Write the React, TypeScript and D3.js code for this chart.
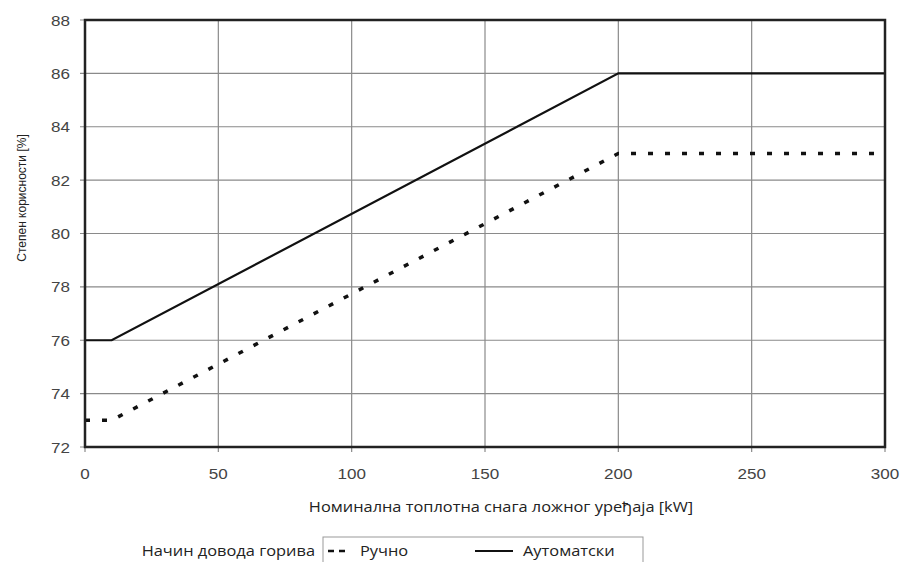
import React from "react";
import * as d3 from "d3";

const xTicks = [0, 50, 100, 150, 200, 250, 300];
const yTicks = [72, 74, 76, 78, 80, 82, 84, 86, 88];
const autoX = [0, 10, 200, 300];
const autoY = [76, 76, 86, 86];
const manualX = [0, 10, 200, 300];
const manualY = [73, 73, 83, 83];
const xTitle = "Номинална топлотна снага ложног уређаја [kW]";
const yTitle = "Степен корисности [%]";
const legendTitle = "Начин довода горива";
const seriesNames = ["Ручно", "Аутоматски"];

const W = 901, H = 562;
const M = { left: 85, right: 885, top: 20, bottom: 447 };
const FONT = "Arial, 'Liberation Sans', sans-serif";
const FONT2 = "'Open Sans', 'Noto Sans', sans-serif";

function SText(props: { x: number; y: number; sx: number; anchor?: string; family: string; size: number; fill: string; dy?: string; children: React.ReactNode }) {
  return (
    <g transform={`translate(${props.x},${props.y}) scale(${props.sx},1)`}>
      <text x={0} y={0} dy={props.dy} textAnchor={props.anchor || "start"} fontFamily={props.family} fontSize={props.size} fill={props.fill}>{props.children}</text>
    </g>
  );
}

export default function App() {
  const x = d3.scaleLinear().domain([0, 300]).range([M.left, M.right]);
  const y = d3.scaleLinear().domain([72, 88]).range([M.bottom, M.top]);
  const line = d3.line<[number, number]>().x(d => x(d[0])).y(d => y(d[1]));
  const autoPts = autoX.map((v, i) => [v, autoY[i]] as [number, number]);
  const manPts = manualX.map((v, i) => [v, manualY[i]] as [number, number]);
  const grey = "#444";
  const sx = 1.13;
  return (
    <svg width={W} height={H} style={{ position: "absolute", left: 0, top: 0, background: "#fff" }}>
      <rect x={0} y={0} width={W} height={H} fill="#fff" />
      {xTicks.map(t => (
        <line key={"gx" + t} x1={x(t)} x2={x(t)} y1={M.top} y2={M.bottom + 5} stroke="#8a8a8a" strokeWidth={1.2} />
      ))}
      {yTicks.map(t => (
        <line key={"gy" + t} x1={M.left - 5} x2={M.right} y1={y(t)} y2={y(t)} stroke="#8a8a8a" strokeWidth={1.2} />
      ))}
      <path d={line(manPts) || ""} fill="none" stroke="#111" strokeWidth={3.5} strokeDasharray="5,12" />
      <path d={line(autoPts) || ""} fill="none" stroke="#111" strokeWidth={2.2} />
      <rect x={M.left} y={M.top} width={M.right - M.left} height={M.bottom - M.top} fill="none" stroke="#222" strokeWidth={2.5} />
      {yTicks.map(t => (
        <SText key={"ly" + t} x={70} y={y(t)} dy="0.36em" sx={1.1} anchor="end" family={FONT} size={15.5} fill={grey}>{t}</SText>
      ))}
      {xTicks.map(t => (
        <SText key={"lx" + t} x={x(t)} y={479} sx={1.1} anchor="middle" family={FONT} size={15.5} fill={grey}>{t}</SText>
      ))}
      <SText x={501} y={512} sx={sx} anchor="middle" family={FONT2} size={14.5} fill="#222">{xTitle}</SText>
      <text transform={`translate(26,198) rotate(-90)`} textAnchor="middle" fontFamily={FONT} fontSize={12} fill="#222">{yTitle}</text>
      <SText x={315} y={556} sx={sx} anchor="end" family={FONT2} size={14.5} fill="#222">{legendTitle}</SText>
      <rect x={323} y={537} width={320} height={30} fill="none" stroke="#999" strokeWidth={1} />
      <line x1={328} x2={350} y1={551} y2={551} stroke="#111" strokeWidth={2.5} strokeDasharray="6,5" />
      <SText x={360} y={556} sx={sx} family={FONT2} size={14.5} fill="#222">{seriesNames[0]}</SText>
      <line x1={475} x2={513} y1={551} y2={551} stroke="#111" strokeWidth={2.2} />
      <SText x={523} y={556} sx={sx} family={FONT2} size={14.5} fill="#222">{seriesNames[1]}</SText>
    </svg>
  );
}
